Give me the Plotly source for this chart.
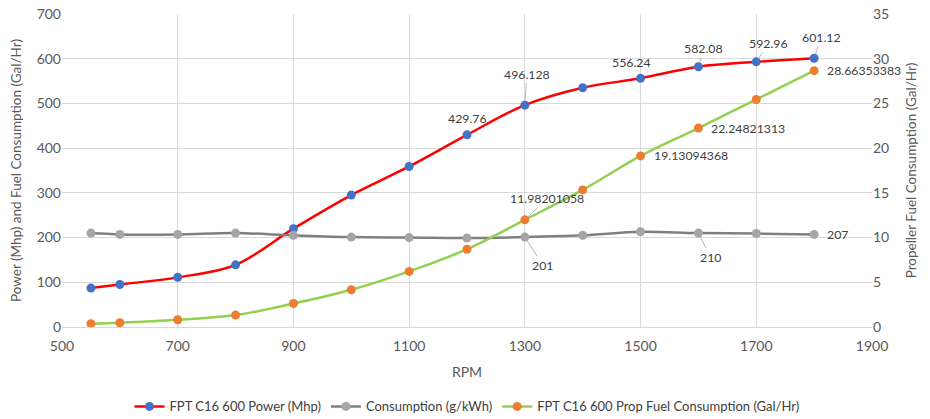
import plotly.graph_objects as go

rpm = [550, 600, 700, 800, 900, 1000, 1100, 1200, 1300, 1400, 1500, 1600, 1700, 1800]
power = [87, 95, 111, 139, 220, 295, 359, 429.76, 496.128, 535, 556.24, 582.08, 592.96, 601.12]
consumption = [210, 207, 207, 210, 205, 201, 200, 199, 201, 205, 213, 210, 209, 207]
prop_fuel = [0.37, 0.48, 0.81, 1.33, 2.63, 4.17, 6.22, 8.7, 11.98201058, 15.33,
             19.13094368, 22.24821313, 25.44, 28.66353383]

name_power = "FPT C16 600 Power (Mhp)"
name_cons = "Consumption (g/kWh)"
name_prop = "FPT C16 600 Prop Fuel Consumption (Gal/Hr)"

FONT = "Lato"
TXT = "#404040"
TICK = "#595959"
GRID = "#D9D9D9"

fig = go.Figure()
fig.add_trace(go.Scatter(x=rpm, y=power, name=name_power, mode="lines+markers",
                         line=dict(color="#FF0000", width=2.5, shape="spline"),
                         marker=dict(color="#4472C4", size=9)))
fig.add_trace(go.Scatter(x=rpm, y=consumption, name=name_cons, mode="lines+markers",
                         line=dict(color="#7F7F7F", width=2.5, shape="spline"),
                         marker=dict(color="#A5A5A5", size=9)))
fig.add_trace(go.Scatter(x=rpm, y=prop_fuel, name=name_prop, mode="lines+markers", yaxis="y2",
                         line=dict(color="#92D050", width=2.5, shape="spline"),
                         marker=dict(color="#ED7D31", size=9)))

ann = []
font = dict(family=FONT, size=12.3, color=TXT)

def fmt(v):
    return ("%.8f" % v).rstrip("0").rstrip(".") if isinstance(v, float) else str(v)

# power labels: (index, ax, ay, arrow)
for i, ax, ay, arrow in [(7, 0, -16, False), (8, 2, -31, True), (10, -9, -16, False),
                         (11, 5, -18, True), (12, 12, -18, True), (13, 7, -21, True)]:
    if arrow:
        ann.append(dict(x=rpm[i], y=power[i], xref="x", yref="y", text=fmt(power[i]),
                        showarrow=True, ax=ax, ay=ay, arrowhead=0, arrowwidth=0.8,
                        arrowcolor="#A6A6A6", standoff=4, font=font))
    else:
        ann.append(dict(x=rpm[i], y=power[i], xref="x", yref="y", text=fmt(power[i]),
                        showarrow=False, xshift=ax, yshift=-ay, font=font))

# prop fuel labels
for i in [10, 11, 13]:
    ann.append(dict(x=rpm[i], y=prop_fuel[i], xref="x", yref="y2", text=fmt(prop_fuel[i]),
                    showarrow=False, xanchor="left", xshift=11, font=font))
ann.append(dict(x=rpm[8], y=prop_fuel[8], xref="x", yref="y2", text=fmt(prop_fuel[8]),
                showarrow=True, ax=22, ay=-21, arrowhead=0, arrowwidth=0.8,
                arrowcolor="#A6A6A6", standoff=4, font=font))

# consumption labels
for i, ax, ay in [(8, 18, 28), (11, 12, 24)]:
    ann.append(dict(x=rpm[i], y=consumption[i], xref="x", yref="y", text=fmt(consumption[i]),
                    showarrow=True, ax=ax, ay=ay, arrowhead=0, arrowwidth=0.8,
                    arrowcolor="#A6A6A6", standoff=4, font=font))
ann.append(dict(x=rpm[13], y=consumption[13], xref="x", yref="y", text=fmt(consumption[13]),
                showarrow=False, xanchor="left", xshift=11, font=font))

fig.update_layout(
    width=930, height=419,
    margin=dict(l=62, r=58, t=14, b=92, autoexpand=False),
    paper_bgcolor="white", plot_bgcolor="white",
    font=dict(family=FONT, size=14, color=TICK),
    showlegend=True,
    legend=dict(orientation="h", x=0.5, xanchor="center", yref="container", y=0.03,
                yanchor="middle", font=dict(family=FONT, size=13, color=TXT),
                itemwidth=30, tracegroupgap=0),
    annotations=ann,
    xaxis=dict(range=[500, 1900], dtick=200, tick0=500, showgrid=True, gridcolor=GRID,
               showline=True, linecolor=GRID, mirror=False, zeroline=False, automargin=False,
               ticks="", ticklabelstandoff=6,
               title=dict(text="RPM", font=dict(size=14, color=TICK), standoff=14),
               tickfont=dict(size=14, color=TICK), ticklabeloverflow="allow"),
    yaxis=dict(range=[0, 700], dtick=100, showgrid=True, gridcolor=GRID, zeroline=False,
               automargin=False, ticks="", ticklabeloverflow="allow",
               title=dict(text="Power (Mhp) and Fuel Consumption (Gal/Hr)",
                          font=dict(size=13.5, color=TICK), standoff=11),
               tickfont=dict(size=14, color=TICK)),
    yaxis2=dict(range=[0, 35], dtick=5, overlaying="y", side="right", showgrid=False,
                zeroline=False, ticks="", automargin=False, ticklabeloverflow="allow",
                title=dict(text="Propeller Fuel Consumption (Gal/Hr)",
                           font=dict(size=13.5, color=TICK), standoff=18),
                tickfont=dict(size=14, color=TICK)),
)

fig.write_html("out.html", config={"displayModeBar": False},
               post_script="document.body.style.margin='0';document.body.style.overflow='hidden';")
